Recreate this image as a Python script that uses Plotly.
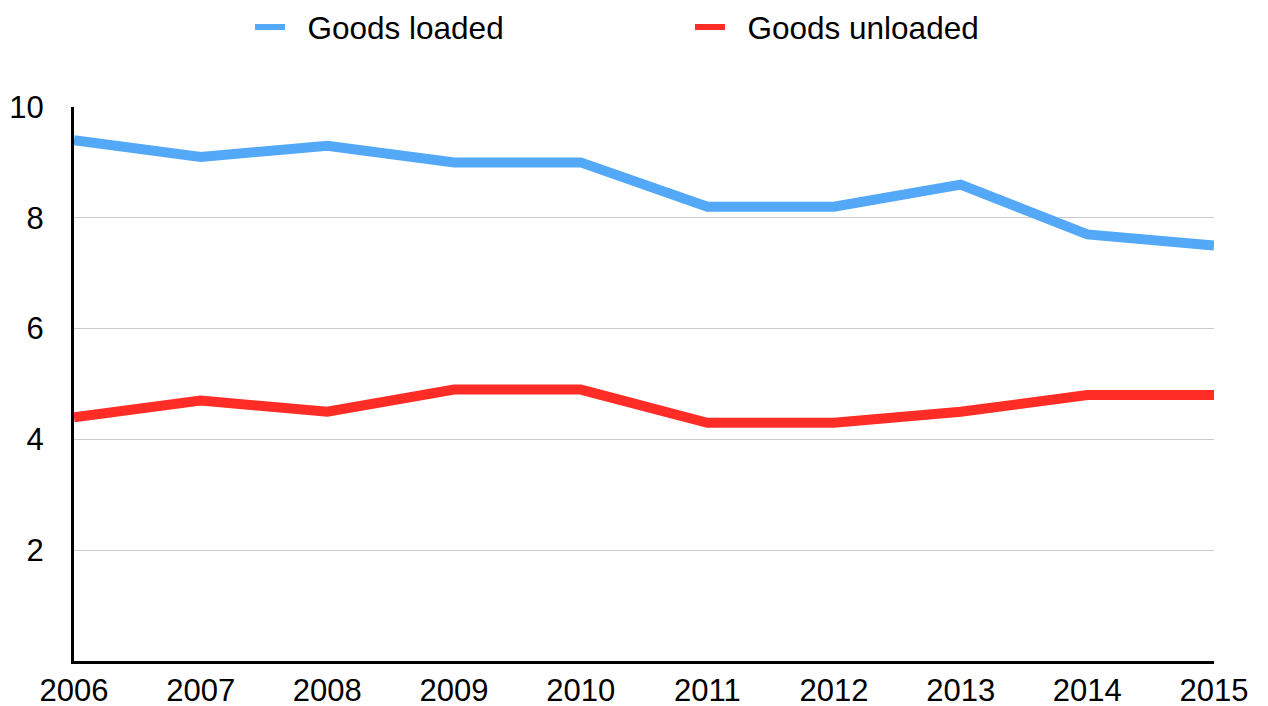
import plotly.graph_objects as go

years = [2006, 2007, 2008, 2009, 2010, 2011, 2012, 2013, 2014, 2015]
goods_loaded = [9.4, 9.1, 9.3, 9.0, 9.0, 8.2, 8.2, 8.6, 7.7, 7.5]
goods_unloaded = [4.4, 4.7, 4.5, 4.9, 4.9, 4.3, 4.3, 4.5, 4.8, 4.8]
y_ticks = [2, 4, 6, 8, 10]

FONT = "Liberation Sans, Arial, sans-serif"
BLUE = "#53A8F7"
RED = "#FF2D26"
PAD = "\u00a0\u00a0"

fig = go.Figure()
series = [("Goods loaded", goods_loaded, BLUE), ("Goods unloaded", goods_unloaded, RED)]
for name, values, color in series:
    fig.add_trace(go.Scatter(x=years, y=values, mode="lines", name=name,
                             legendgroup=name, showlegend=False,
                             line=dict(color=color, width=10)))
    # thinner swatch for the legend entry
    fig.add_trace(go.Scatter(x=[None], y=[None], mode="lines", name=PAD + name,
                             legendgroup=name, showlegend=True,
                             line=dict(color=color, width=6)))

fig.update_layout(
    width=1268, height=706,
    margin=dict(l=74, r=54, t=107, b=45),
    paper_bgcolor="white", plot_bgcolor="white",
    font=dict(family=FONT, size=31, color="black"),
    legend=dict(orientation="h", xref="container", yref="container",
                x=250 / 1268, xanchor="left", y=1.0, yanchor="top",
                entrywidth=395, entrywidthmode="pixels",
                font=dict(size=31.5)),
    xaxis=dict(range=[2006, 2015], tickvals=years, showgrid=False,
               showline=True, linecolor="black", linewidth=3,
               ticks="", ticklabelstandoff=0, zeroline=False, automargin=False),
    yaxis=dict(range=[0, 10], tickvals=y_ticks, showgrid=True,
               gridcolor="#CCCCCC", gridwidth=1,
               showline=True, linecolor="black", linewidth=3,
               ticks="", ticklabelstandoff=21, zeroline=False, automargin=False),
)

fig.write_html("out.html")
